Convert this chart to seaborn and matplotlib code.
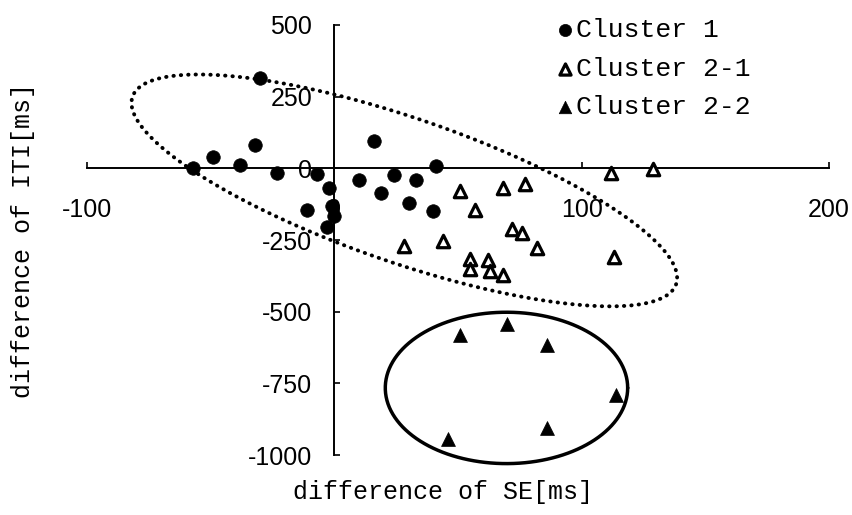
import numpy as np
import pandas as pd
import matplotlib
matplotlib.use("Agg")
import matplotlib.pyplot as plt
import seaborn as sns

# ---- data ----
c1_x = [-30, -57, -49, -38, -32, -23, -7, -2, -11, -1, 0, -3, 16, 41, 10, 24, 33, 19, 30, 40]
c1_y = [315, 0, 38, 10, 80, -17, -21, -70, -147, -133, -168, -203, 94, 7, -40, -24, -42, -87, -122, -150]

c21_x = [112, 129, 51, 68, 77, 57, 72, 76, 82, 28, 44, 55, 55, 62, 63, 68, 113]
c21_y = [-17, -4, -80, -70, -56, -147, -210, -224, -277, -270, -252, -315, -350, -319, -357, -371, -308]

c22_x = [51, 70, 86, 114, 86, 46]
c22_y = [-581, -542, -616, -791, -907, -945]

labels = ["Cluster 1", "Cluster 2-1", "Cluster 2-2"]
x_ticks = [-100, 0, 100, 200]
y_ticks = [500, 250, 0, -250, -500, -750, -1000]

# ellipse annotations (center, two conjugate half-axis vectors in data units)
dotted_center = (28.3, -77)
dotted_a = (109.9, -327)
dotted_b = (-9.5, -238)
solid_center = (69.6, -766)
solid_a = (49, 0)
solid_b = (0, 264)

sns.set_theme(style="white")
plt.rcParams["font.family"] = ["Liberation Sans", "DejaVu Sans"]

fig = plt.figure(figsize=(8.52, 5.15), dpi=100)
ax = fig.add_axes([87 / 852, 1 - 455 / 515, 742 / 852, 430 / 515])

df1 = pd.DataFrame({"x": c1_x, "y": c1_y})
df21 = pd.DataFrame({"x": c21_x, "y": c21_y})
df22 = pd.DataFrame({"x": c22_x, "y": c22_y})

sns.scatterplot(data=df1, x="x", y="y", marker="o", s=95, color="black",
                edgecolor="black", linewidth=0.5, ax=ax, label=labels[0], zorder=4)
sns.scatterplot(data=df21, x="x", y="y", marker="^", s=80, facecolor="white",
                edgecolor="black", linewidth=2.3, ax=ax, label=labels[1], zorder=4)
sns.scatterplot(data=df22, x="x", y="y", marker="^", s=100, color="black",
                edgecolor="black", linewidth=0.5, ax=ax, label=labels[2], zorder=4)

t = np.linspace(0, 2 * np.pi, 400)
ex = dotted_center[0] + dotted_a[0] * np.cos(t) + dotted_b[0] * np.sin(t)
ey = dotted_center[1] + dotted_a[1] * np.cos(t) + dotted_b[1] * np.sin(t)
ax.plot(ex, ey, color="black", lw=2.8, linestyle=(0, (0.1, 1.8)),
        dash_capstyle="round", zorder=3, clip_on=False)
sx = solid_center[0] + solid_a[0] * np.cos(t) + solid_b[0] * np.sin(t)
sy = solid_center[1] + solid_a[1] * np.cos(t) + solid_b[1] * np.sin(t)
ax.plot(sx, sy, color="black", lw=2.5, zorder=3, clip_on=False)

ax.set_xlim(-100, 200)
ax.set_ylim(-1000, 500)
ax.set_xticks(x_ticks)
ax.set_yticks(y_ticks)
ax.set_xticklabels([str(v) for v in x_ticks])
ax.set_yticklabels([str(v) for v in y_ticks])

for side in ["top", "right"]:
    ax.spines[side].set_visible(False)
ax.spines["left"].set_position(("data", 0))
ax.spines["bottom"].set_position(("data", 0))
for side in ["left", "bottom"]:
    ax.spines[side].set_color("black")
    ax.spines[side].set_linewidth(1.4)
    ax.spines[side].set_zorder(2)
ax.set_facecolor("white")
ax.grid(False)

ax.tick_params(axis="x", direction="in", length=4, width=1.2, color="black",
               labelsize=18, pad=21, labelcolor="black")
ax.tick_params(axis="y", direction="in", length=4, width=1.2, color="black",
               labelsize=18, pad=16, labelcolor="black")
ax.xaxis.set_ticks_position("bottom")
ax.yaxis.set_ticks_position("left")

mono = ["Liberation Mono", "DejaVu Sans Mono"]
ax.set_xlabel("difference of SE[ms]", family=mono, fontsize=18, color="black")
ax.set_ylabel("difference of ITI[ms]", family=mono, fontsize=18, color="black",
              va="center", ha="center")
ax.xaxis.set_label_coords(0.48, -0.058)
ax.yaxis.set_label_coords(-0.086, 0.5)

handles, lab = ax.get_legend_handles_labels()
leg = ax.legend(handles, lab, loc="upper left",
                bbox_to_anchor=(544 / 852, 1 - 5 / 515),
                bbox_transform=fig.transFigure, frameon=False,
                prop={"family": mono, "size": 19}, handlelength=0.6,
                handletextpad=0.1, labelspacing=0.55, borderpad=0.0,
                markerscale=0.9)
for txt in leg.get_texts():
    txt.set_color("black")

fig.savefig("out.png", dpi=100, facecolor="white")
